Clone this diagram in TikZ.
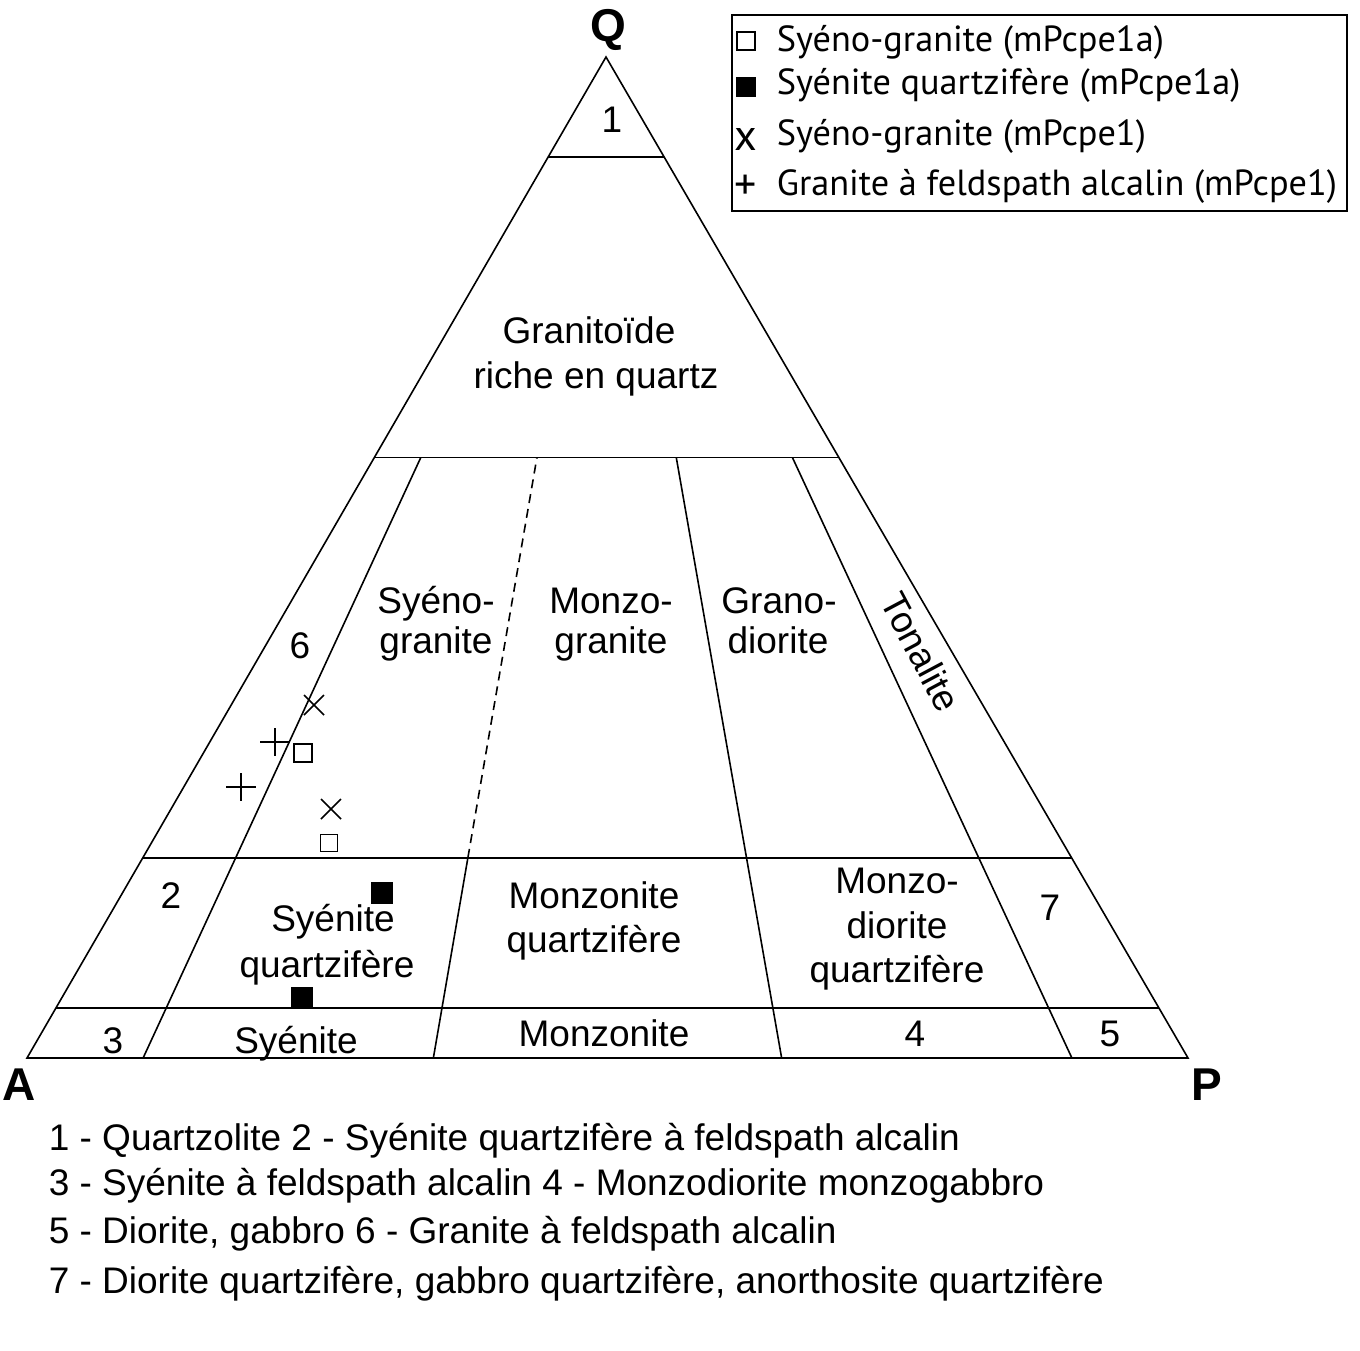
\documentclass[tikz,border=0pt]{standalone}
\usepackage{fontspec}
\setmainfont{Liberation Sans}
\newfontfamily\legfont{PT Sans}
\usetikzlibrary{calc}
\begin{document}
\begin{tikzpicture}[x=1pt,y=-1pt,line width=1.6pt,
  lbl/.style={inner sep=0pt,anchor=base,font=\fontsize{37}{44}\selectfont},
  corner/.style={inner sep=0pt,font=\fontsize{46}{46}\selectfont\bfseries},
  leg/.style={inner sep=0pt,anchor=west,font=\legfont\fontsize{36.3}{42}\selectfont},
  legsym/.style={inner sep=0pt,anchor=center,font=\legfont\fontsize{44}{44}\selectfont},
  bot/.style={inner sep=0pt,anchor=base west,font=\fontsize{37}{44}\selectfont},
  osq/.style={draw,line width=1.4pt,fill=white,inner sep=0pt,minimum size=18pt},
  fsq/.style={fill=black,inner sep=0pt,minimum size=22pt},
  xmark/.pic={\draw[line width=1.6pt] (-10,-10) -- (10,10) (-10,10) -- (10,-10);},
  pmark/.pic={\draw[line width=1.6pt] (-15,0) -- (15,0) (0,-14) -- (0,14);},
  dashline/.style={dash pattern=on 9pt off 6pt}]
\useasboundingbox (0,0) rectangle (1360,1351);
% corners
\coordinate (A) at (27,1058);
\coordinate (P) at (1188,1058);
\coordinate (Q) at (606,57);
\draw[line join=miter] (A) -- (P) -- (Q) -- cycle;
% horizontal lines
\foreach \q/\n in {0.9/a,0.6/b,0.2/c,0.05/d}{
  \coordinate (L\n) at ($(A)!\q!(Q)$);
  \coordinate (R\n) at ($(P)!\q!(Q)$);
}
\draw (La) -- (Ra);
\draw (Lb) -- (Rb);
\draw (Lc) -- (Rc);
\draw (Ld) -- (Rd);
% radial lines
\foreach \r/\n in {0.1/1,0.35/2,0.65/3,0.9/4}{
  \coordinate (B\n) at ($(A)!\r!(P)$);
  \coordinate (T\n) at ($(B\n)!0.6!(Q)$);
  \coordinate (M\n) at ($(B\n)!0.2!(Q)$);
}
\draw (B1) -- (T1);
\draw (B2) -- (M2);
\draw[dashline] (M2) -- (T2);
\draw (B3) -- (T3);
\draw (B4) -- (T4);
% corner labels
\node[corner] (lQ) at (608,30) {Q};
\node[corner] (lA) at (19,1085) {A};
\node[corner] (lP) at (1207,1085) {P};
% field labels
\node[lbl] (f1) at (612,133) {1};
\node[lbl] (fg1) at (589,343) {Granitoïde};
\node[lbl] (fg2) at (596,388) {riche en quartz};
\node[lbl] (f6) at (300,658) {6};
\node[lbl] (sg1) at (436,613) {Syéno-};
\node[lbl] (sg2) at (436,653) {granite};
\node[lbl] (mg1) at (611,613) {Monzo-};
\node[lbl] (mg2) at (611,653) {granite};
\node[lbl] (gd1) at (779,613) {Grano-};
\node[lbl] (gd2) at (778,653) {diorite};
\node[lbl,anchor=center,rotate=-62] (ton) at (921,652) {Tonalite};
\node[lbl] (f2) at (171,908) {2};
\node[lbl] (sq1) at (333,931) {Syénite};
\node[lbl] (sq2) at (327,977) {quartzifère};
\node[lbl] (mq1) at (594,908) {Monzonite};
\node[lbl] (mq2) at (594,952) {quartzifère};
\node[lbl] (md1) at (897,893) {Monzo-};
\node[lbl] (md2) at (897,938) {diorite};
\node[lbl] (md3) at (897,982) {quartzifère};
\node[lbl] (f7) at (1050,920) {7};
\node[lbl] (f3) at (113,1053) {3};
\node[lbl] (sy) at (296,1053) {Syénite};
\node[lbl] (mz) at (604,1046) {Monzonite};
\node[lbl] (f4) at (915,1046) {4};
\node[lbl] (f5) at (1110,1046) {5};
% data points
\pic at (314,705) {xmark};
\pic at (331,809) {xmark};
\pic at (275,742) {pmark};
\pic at (241,787) {pmark};
\node[osq] (o1) at (303,753) {};
\node[osq,minimum size=17pt] (o2) at (329,843) {};
\node[fsq] (b1) at (382,893) {};
\node[fsq] (b2) at (302,998) {};
% legend
\node[draw,line width=1.6pt,inner sep=0pt,minimum width=615pt,minimum height=196pt,anchor=north west] (legend) at (731,14) {};
\node[osq,minimum size=18pt] (lg1) at (746,41) {};
\node[fsq,minimum size=20pt] (lg2) at (746,87) {};
\node[legsym] (lg3) at (746,140) {x};
\node[legsym] (lg4) at (746,187) {+};
\node[leg] (lt1) at (776,42) {Syéno-granite (mPcpe1a)};
\node[leg] (lt2) at (776,85) {Syénite quartzifère (mPcpe1a)};
\node[leg] (lt3) at (776,136) {Syéno-granite (mPcpe1)};
\node[leg] (lt4) at (776,186) {Granite à feldspath alcalin (mPcpe1)};
% explanation
\node[bot] (e1) at (48,1150) {1 - Quartzolite 2 - Syénite quartzifère à feldspath alcalin};
\node[bot] (e2) at (48,1195) {3 - Syénite à feldspath alcalin 4 - Monzodiorite monzogabbro};
\node[bot] (e3) at (48,1243) {5 - Diorite, gabbro 6 - Granite à feldspath alcalin};
\node[bot] (e4) at (48,1293) {7 - Diorite quartzifère, gabbro quartzifère, anorthosite quartzifère};
\end{tikzpicture}
\end{document}
